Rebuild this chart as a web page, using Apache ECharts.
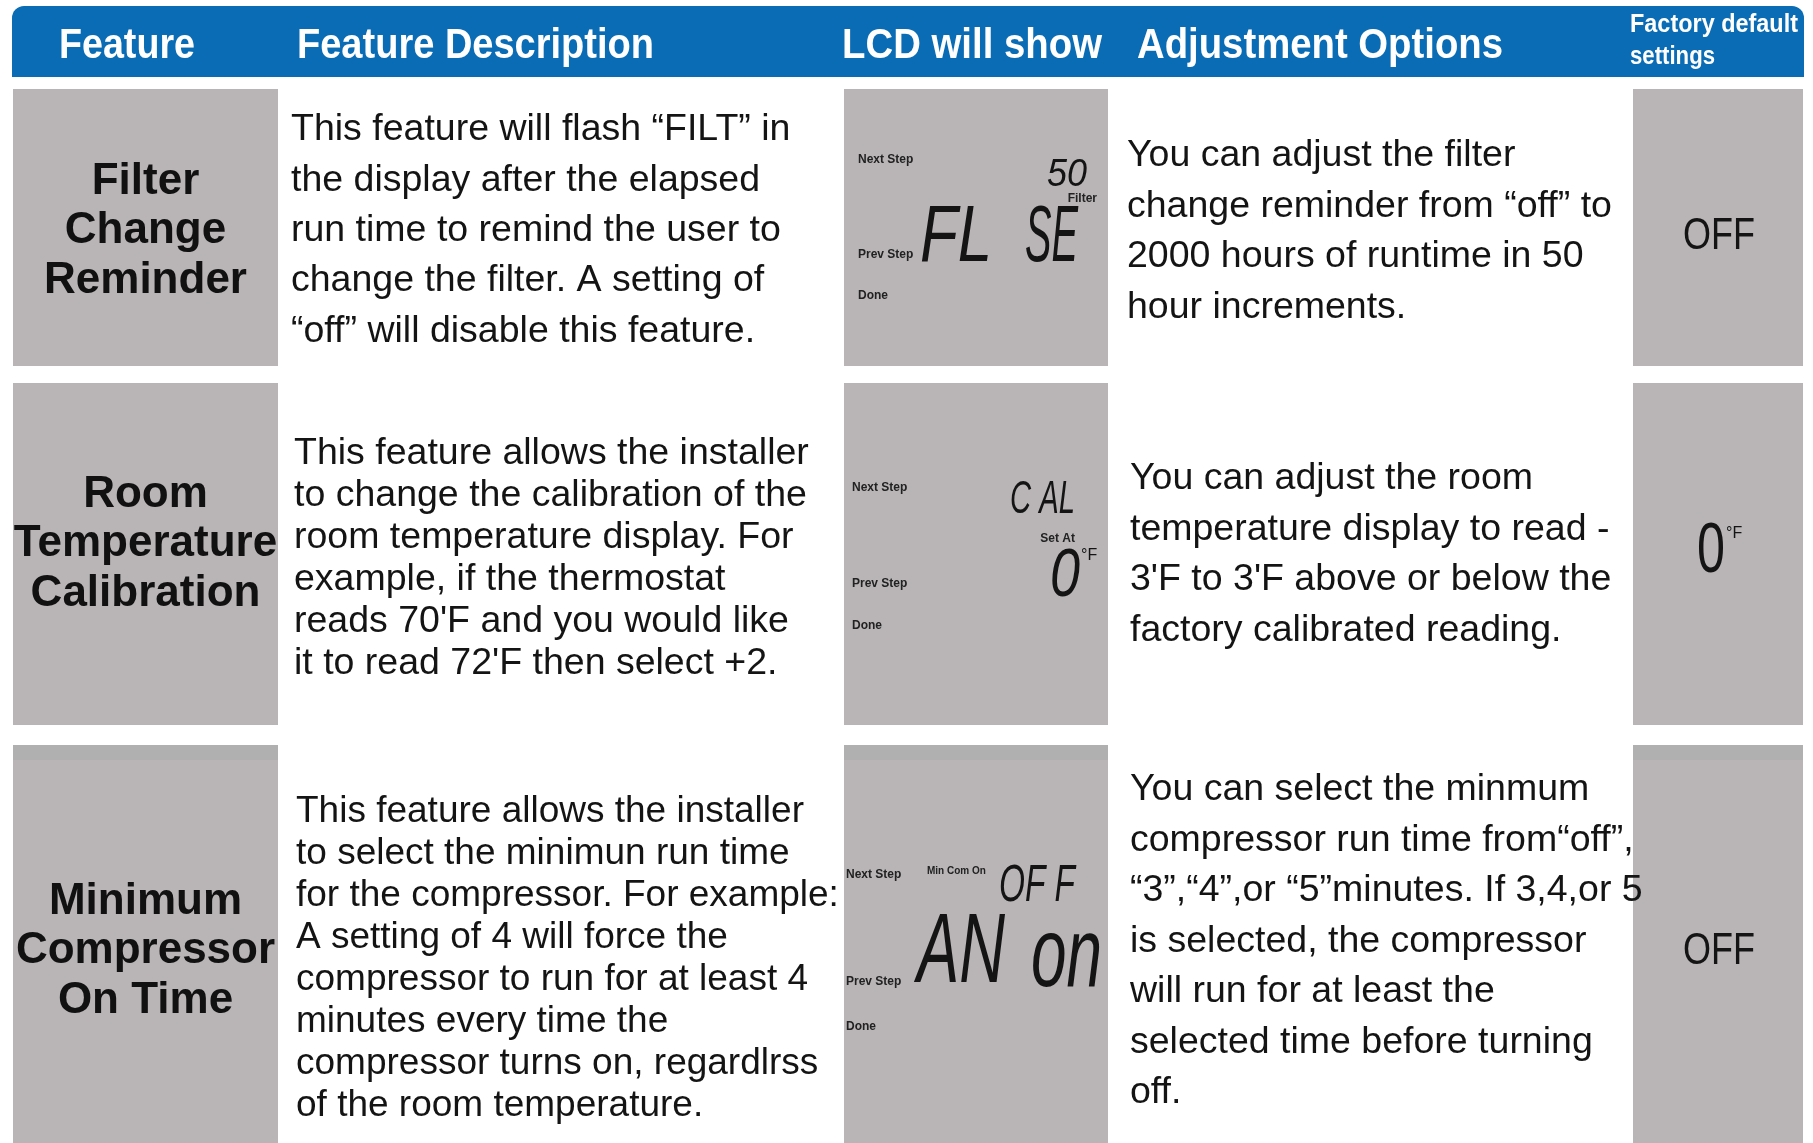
<!DOCTYPE html>
<html><head><meta charset="utf-8">
<script src="https://cdn.jsdelivr.net/npm/echarts@6/dist/echarts.min.js"></script>
<style>html,body{margin:0;padding:0;background:#fff}#c{width:1813px;height:1143px}</style>
</head><body><div id="c"></div><script>
// ---------------- data ----------------
const headers = ['Feature', 'Feature Description', 'LCD will show', 'Adjustment Options', 'Factory default', 'settings'];
const features = [
  ['Filter', 'Change', 'Reminder'],
  ['Room', 'Temperature', 'Calibration'],
  ['Minimum', 'Compressor', 'On Time']
];
const descriptions = [
  ['This feature will flash \u201cFILT\u201d in', 'the display after the elapsed', 'run time to remind the user to', 'change the filter. A setting of', '\u201coff\u201d will disable this feature.'],
  ['This feature allows the installer', 'to change the calibration of the', 'room temperature display. For', 'example, if the thermostat', "reads 70'F and you would like", "it to read 72'F then select +2."],
  ['This feature allows the installer', 'to select the minimun run time', 'for the compressor. For example:', 'A setting of 4 will force the', 'compressor to run for at least 4', 'minutes every time the', 'compressor turns on, regardlrss', 'of the room temperature.']
];
const adjustments = [
  ['You can adjust the filter', 'change reminder from \u201coff\u201d to', '2000 hours of runtime in 50', 'hour increments.'],
  ['You can adjust the room', 'temperature display to read -', "3'F to 3'F above or below the", 'factory calibrated reading.'],
  ['You can select the minmum', 'compressor run time from\u201coff\u201d,', '\u201c3\u201d,\u201c4\u201d,or \u201c5\u201dminutes. If 3,4,or 5', 'is selected, the compressor', 'will run for at least the', 'selected time before turning', 'off.']
];
const lcdButtons = ['Next Step', 'Prev Step', 'Done'];
const lcdCaption = ['Filter', 'Set At', 'Min Com On'];
const lcdTop = ['50', 'C AL', 'OF F'];
const lcdMain = [['FL', 'SE'], ['0'], ['AN', 'on']];
const lcdUnit = ['', '\u00b0F', ''];
const defaults = ['OFF', '0', 'OFF'];
const defaultUnit = ['', '\u00b0F', ''];

// ---------------- layout (pixel space of hidden value axes) ----------------
const W = 1813, H = 1143;
const FAM = '"Liberation Sans", Arial, sans-serif';
const GRAY = '#b9b5b7', BLUE = '#0a6cb4', INK = '#141414';
const rowTop = [89, 383, 745], rowBot = [366, 725, 1143];
const grayCols = [[13, 278], [844, 1108], [1633, 1803]];
const featCY = [231, 544, 951], featLH = 49.5, featSize = 44;
const descX = [291, 294, 296], descY0 = [130, 454, 812], descLH = [50.3, 42, 42], descSize = [37.5, 37.5, 37];
const adjX = [1127, 1130, 1130], adjY0 = [156, 479, 790], adjLH = 50.5, adjSize = 37.5;
const btnX = [858, 852, 846], btnY = [[160, 255, 296], [488, 584, 626], [875, 982, 1027]];
const capBox = [{x1: 1097, y: 199, s: 12, al: 'right'}, {x1: 1075, y: 539, s: 12, al: 'right'}, {x0: 927, y: 871, s: 10, al: 'left'}];
const topBox = [{x0: 1047, x1: 1087, y: 175, s: 38}, {x0: 1010, x1: 1075, y: 500, s: 47}, {x0: 999, x1: 1075, y: 887, s: 52}];
const mainBox = [
  [{x0: 920, x1: 992, y: 239, s: 80}, {x0: 1025, x1: 1078, y: 239, s: 80}],
  [{x0: 1050, x1: 1080, y: 577, s: 68}],
  [{x0: 917, x1: 1005, y: 955, s: 98}, {x0: 1031, x1: 1102, y: 959, s: 98}]
];
const unitBox = [null, {x0: 1081, y: 556, s: 16}, null];
const defBox = [{x0: 1683, x1: 1755, y: 237, s: 45}, {x0: 1697, x1: 1725, y: 553, s: 70}, {x0: 1683, x1: 1755, y: 952, s: 45}];
const defUnitBox = [null, {x0: 1726, y: 534, s: 16}, null];
const headBox = [
  {x0: 59, x1: 195, y: 46, s: 42}, {x0: 297, x1: 654, y: 46, s: 42}, {x0: 842, x1: 1102, y: 46, s: 42},
  {x0: 1137, x1: 1503, y: 46, s: 42}, {x0: 1630, x1: 1798, y: 25, s: 26}, {x0: 1630, x1: 1715, y: 57, s: 26}
];

const mctx = document.createElement('canvas').getContext('2d');
function measure(t, s, w, st) { mctx.font = (st || 'normal') + ' ' + (w || 'normal') + ' ' + s + 'px ' + FAM; return mctx.measureText(t).width; }

function fitted(P, t, b, opt) {
  opt = opt || {};
  const w = measure(t, b.s, opt.weight, opt.style);
  const sx = b.x1 != null ? (b.x1 - b.x0) / w : 1;
  const p = P(b.x0, b.y);
  return {type: 'text', x: p[0], y: p[1], scaleX: sx,
    style: {text: t, fill: opt.fill || INK, fontSize: b.s, fontFamily: FAM, fontWeight: opt.weight || 'normal',
      fontStyle: opt.style || 'normal', align: 'left', verticalAlign: 'middle'}};
}
function plain(P, t, x, y, s, opt) {
  opt = opt || {};
  const p = P(x, y);
  return {type: 'text', x: p[0], y: p[1],
    style: {text: t, fill: opt.fill || INK, fontSize: s, fontFamily: FAM, fontWeight: opt.weight || 'normal',
      align: opt.align || 'left', verticalAlign: 'middle'}};
}
function rect(P, x0, y0, x1, y1, fill, r) {
  const a = P(x0, y0), b = P(x1, y1);
  return {type: 'rect', shape: {x: a[0], y: a[1], width: b[0] - a[0], height: b[1] - a[1], r: r || 0}, style: {fill: fill}};
}

function renderHeader(params, api) {
  const P = (x, y) => api.coord([x, y]);
  const ch = [rect(P, 12, 6, 1804, 77, BLUE, [12, 12, 0, 0])];
  headers.forEach((h, i) => ch.push(fitted(P, h, headBox[i], {weight: 'bold', fill: '#ffffff'})));
  return {type: 'group', children: ch};
}

function renderRow(params, api) {
  const i = params.dataIndex;
  const P = (x, y) => api.coord([x, y]);
  const ch = [];
  grayCols.forEach(c => {
    ch.push(rect(P, c[0], rowTop[i], c[1], rowBot[i], GRAY));
    if (i === 2) ch.push(rect(P, c[0], rowTop[i], c[1], rowTop[i] + 15, '#b1b0b1'));
  });
  // feature name
  const f = features[i];
  f.forEach((t, k) => ch.push(plain(P, t, (grayCols[0][0] + grayCols[0][1]) / 2, featCY[i] + (k - (f.length - 1) / 2) * featLH, featSize, {weight: 'bold', align: 'center', fill: '#111'})));
  // description
  descriptions[i].forEach((t, k) => ch.push(plain(P, t, descX[i], descY0[i] + k * descLH[i], descSize[i])));
  // adjustment
  adjustments[i].forEach((t, k) => ch.push(plain(P, t, adjX[i], adjY0[i] + k * adjLH, adjSize)));
  // LCD
  lcdButtons.forEach((t, k) => ch.push(plain(P, t, btnX[i], btnY[i][k], 12, {weight: 'bold', fill: '#222'})));
  const cb = capBox[i];
  ch.push(plain(P, lcdCaption[i], cb.al === 'right' ? cb.x1 : cb.x0, cb.y, cb.s, {weight: 'bold', align: cb.al, fill: '#222'}));
  ch.push(fitted(P, lcdTop[i], topBox[i], {style: 'italic'}));
  lcdMain[i].forEach((t, k) => ch.push(fitted(P, t, mainBox[i][k], {style: 'italic'})));
  if (lcdUnit[i]) ch.push(fitted(P, lcdUnit[i], unitBox[i]));
  // factory default
  ch.push(fitted(P, defaults[i], defBox[i]));
  if (defaultUnit[i]) ch.push(fitted(P, defaultUnit[i], defUnitBox[i]));
  return {type: 'group', children: ch};
}

const chart = echarts.init(document.getElementById('c'), null, {renderer: 'canvas'});
chart.setOption({
  animation: false,
  backgroundColor: '#ffffff',
  grid: {left: 0, right: 0, top: 0, bottom: 0},
  xAxis: {type: 'value', min: 0, max: W, show: false},
  yAxis: {type: 'value', min: 0, max: H, inverse: true, show: false},
  series: [
    {type: 'custom', coordinateSystem: 'cartesian2d', clip: false, silent: true, data: [[0, 0]], renderItem: renderHeader},
    {type: 'custom', coordinateSystem: 'cartesian2d', clip: false, silent: true, data: features.map((_, i) => [i, i]), renderItem: renderRow}
  ]
});
</script></body></html>
